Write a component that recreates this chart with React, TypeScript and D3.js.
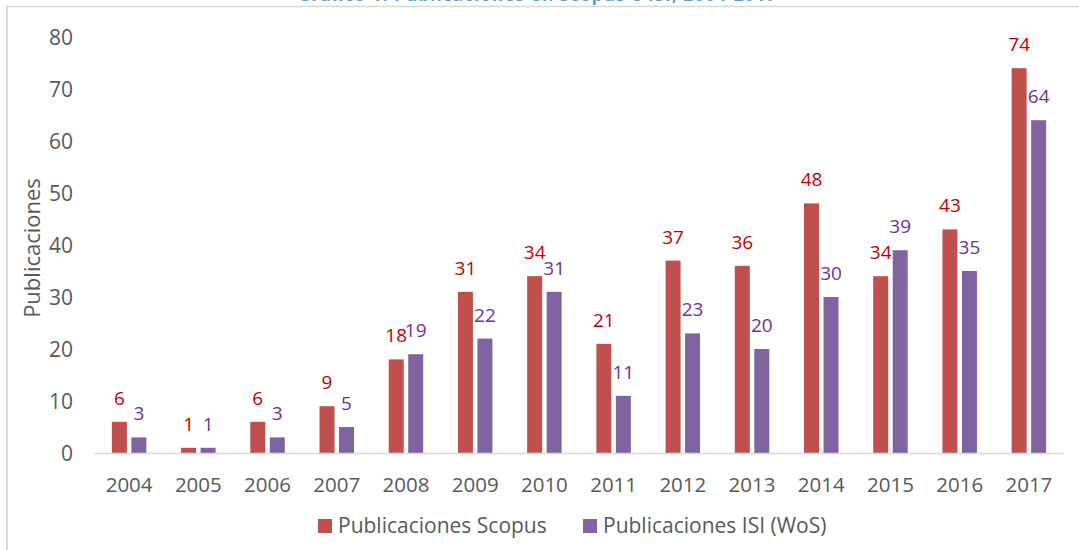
import React, { useEffect, useRef } from 'react';
import * as d3 from 'd3';

const years = ['2004', '2005', '2006', '2007', '2008', '2009', '2010', '2011', '2012', '2013', '2014', '2015', '2016', '2017'];
const scopus = [6, 1, 6, 9, 18, 31, 34, 21, 37, 36, 48, 34, 43, 74];
const isi = [3, 1, 3, 5, 19, 22, 31, 11, 23, 20, 30, 39, 35, 64];
const yTicks = [0, 10, 20, 30, 40, 50, 60, 70, 80];
const seriesNames = ['Publicaciones Scopus', 'Publicaciones ISI (WoS)'];

const FONT = '"Open Sans", "Noto Sans", sans-serif';

export default function App() {
  const svgRef = useRef<SVGSVGElement | null>(null);

  useEffect(() => {
    if (!svgRef.current) return;
    const svg = d3.select(svgRef.current);
    svg.selectAll('*').remove();

    const width = 1079;
    const height = 550;

    // frame of the chart object (only top and left edges are visible)
    svg.append('line')
      .attr('x1', 7).attr('x2', width).attr('y1', 6.5).attr('y2', 6.5)
      .attr('stroke', '#D9D9D9').attr('stroke-width', 1.5);
    svg.append('line')
      .attr('x1', 7).attr('x2', 7).attr('y1', 6).attr('y2', height)
      .attr('stroke', '#D9D9D9').attr('stroke-width', 2);

    // title, almost entirely above the top of the picture
    svg.append('text')
      .attr('x', 537).attr('y', 1)
      .attr('text-anchor', 'middle')
      .attr('textLength', 478)
      .attr('fill', '#5B9BD5')
      .style('font-family', FONT)
      .style('font-size', '17px')
      .style('font-weight', 'bold')
      .text('Gráfico 1. Publicaciones en Scopus e ISI, 2004-2017');

    const x = d3.scaleBand<string>()
      .domain(years)
      .range([94.5, 1063.5]);

    const y = d3.scaleLinear()
      .domain([0, 80])
      .range([453, 37]);

    const barW = 15;
    const gap = 4.5;

    const g = svg.append('g');

    // y tick labels
    g.selectAll('.ytick')
      .data(yTicks)
      .enter()
      .append('text')
      .attr('x', 73)
      .attr('y', d => y(d) + 7.5)
      .attr('text-anchor', 'end')
      .attr('fill', '#595959')
      .style('font-family', FONT)
      .style('font-size', '21px')
      .text(d => d);

    // y axis title
    g.append('text')
      .attr('transform', `translate(40,248) rotate(-90)`)
      .attr('text-anchor', 'middle')
      .attr('fill', '#595959')
      .style('font-family', FONT)
      .style('font-size', '22px')
      .text('Publicaciones');

    const center = (d: string) => (x(d) ?? 0) + x.bandwidth() / 2;

    const series = [
      { values: scopus, fill: '#C0504D', label: '#C00000', offset: -(barW + gap) / 2 },
      { values: isi, fill: '#8064A2', label: '#7030A0', offset: (barW + gap) / 2 },
    ];

    series.forEach(s => {
      g.selectAll(null)
        .data(years)
        .enter()
        .append('rect')
        .attr('x', (d) => center(d) + s.offset - barW / 2)
        .attr('y', (_, i) => y(s.values[i]))
        .attr('width', barW)
        .attr('height', (_, i) => y(0) - y(s.values[i]))
        .attr('fill', s.fill);

      g.selectAll(null)
        .data(years)
        .enter()
        .append('text')
        .attr('x', (d) => center(d) + s.offset)
        .attr('y', (_, i) => y(s.values[i]) - 17)
        .attr('text-anchor', 'middle')
        .attr('fill', s.label)
        .style('font-family', FONT)
        .style('font-size', '19px')
        .text((_, i) => s.values[i]);
    });

    // baseline
    g.append('line')
      .attr('x1', 94.5).attr('x2', 1063.5)
      .attr('y1', y(0) + 0.5).attr('y2', y(0) + 0.5)
      .attr('stroke', '#D9D9D9').attr('stroke-width', 1.5);

    // x labels
    g.selectAll('.xtick')
      .data(years)
      .enter()
      .append('text')
      .attr('x', d => center(d))
      .attr('y', 492)
      .attr('text-anchor', 'middle')
      .attr('fill', '#595959')
      .style('font-family', FONT)
      .style('font-size', '20.5px')
      .text(d => d);

    // legend
    const legendX = [318, 583];
    const colors = ['#C0504D', '#8064A2'];
    seriesNames.forEach((name, i) => {
      g.append('rect')
        .attr('x', legendX[i]).attr('y', 519)
        .attr('width', 14).attr('height', 14)
        .attr('fill', colors[i]);
      g.append('text')
        .attr('x', legendX[i] + 20).attr('y', 533)
        .attr('fill', '#595959')
        .style('font-family', FONT)
        .style('font-size', '21px')
        .text(name);
    });
  }, []);

  return (
    <svg
      ref={svgRef}
      width={1079}
      height={550}
      style={{ position: 'absolute', left: 0, top: 0, display: 'block', background: '#fff' }}
    />
  );
}
